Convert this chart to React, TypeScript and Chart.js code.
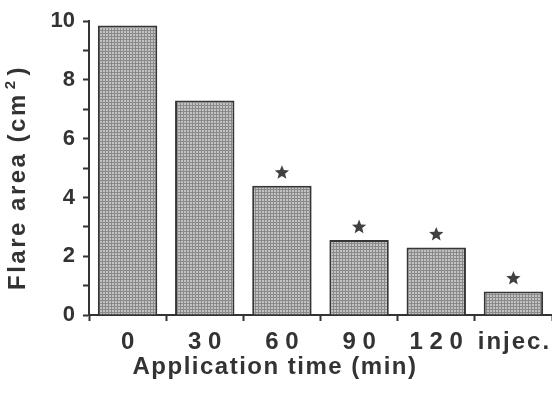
import React, { useEffect, useRef } from "react";
import { Chart, registerables } from "chart.js";

Chart.register(...registerables);

// ---- data ----
const categories = ["0", "3 0", "6 0", "9 0", "1 2 0", "i\u200An\u200Aj\u200Ae\u200Ac\u200A."];
const flareArea = [9.85, 7.3, 4.4, 2.55, 2.3, 0.8];
const significant = [false, false, true, true, true, true];
const yTickLabels = [0, 2, 4, 6, 8, 10];
const xTitle = "Application time (min)";
const yTitleMain = "Flare area (cm";
const yTitleSup = "2";
const yTitleEnd = ")";

const FONT = '"Liberation Sans", Arial, Helvetica, sans-serif';
const INK = "#333333";

function drawStar(ctx: CanvasRenderingContext2D, cx: number, cy: number, outer: number, inner: number) {
  ctx.beginPath();
  for (let i = 0; i < 10; i++) {
    const r = i % 2 === 0 ? outer : inner;
    const a = -Math.PI / 2 + (i * Math.PI) / 5;
    const x = cx + r * Math.cos(a);
    const y = cy + r * Math.sin(a);
    if (i === 0) ctx.moveTo(x, y);
    else ctx.lineTo(x, y);
  }
  ctx.closePath();
  ctx.fill();
}

const starPlugin = {
  id: "stars",
  afterDatasetsDraw(chart: any) {
    const ctx = chart.ctx as CanvasRenderingContext2D;
    const meta = chart.getDatasetMeta(0);
    ctx.save();
    ctx.fillStyle = "#404040";
    meta.data.forEach((bar: any, i: number) => {
      if (significant[i]) drawStar(ctx, bar.x, bar.y - 13, 7.5, 3.3);
    });
    ctx.restore();
  },
};

const titlePlugin = {
  id: "axisTitles",
  afterDraw(chart: any) {
    const ctx = chart.ctx as CanvasRenderingContext2D;
    const area = chart.chartArea;
    ctx.save();
    ctx.fillStyle = INK;
    (ctx as any).letterSpacing = "1.5px";
    ctx.font = `bold 24px ${FONT}`;
    ctx.textAlign = "center";
    ctx.textBaseline = "alphabetic";
    ctx.fillText(xTitle, area.left + 186, 374);

    // rotated y title
    (ctx as any).letterSpacing = "2.5px";
    ctx.translate(25, 290);
    ctx.rotate(-Math.PI / 2);
    ctx.textAlign = "left";
    ctx.font = `bold 24px ${FONT}`;
    ctx.fillText(yTitleMain, 0, 0);
    const w1 = ctx.measureText(yTitleMain).width;
    ctx.font = `bold 15px ${FONT}`;
    ctx.fillText(yTitleSup, w1 + 3, -10);
    const w2 = ctx.measureText(yTitleSup).width;
    ctx.font = `bold 24px ${FONT}`;
    ctx.fillText(yTitleEnd, w1 + w2 + 6, 0);
    ctx.restore();
  },
};

function makePattern(): CanvasPattern | string {
  const c = document.createElement("canvas");
  c.width = 3;
  c.height = 3;
  const p = c.getContext("2d");
  if (!p) return "#a8a8a8";
  p.fillStyle = "#c2c2c2";
  p.fillRect(0, 0, 3, 3);
  p.fillStyle = "#8a8a8a";
  p.fillRect(0, 0, 3, 1);
  p.fillRect(0, 0, 1, 3);
  const pat = p.createPattern(c, "repeat");
  return pat || "#a8a8a8";
}

export default function App() {
  const ref = useRef<HTMLCanvasElement | null>(null);

  useEffect(() => {
    if (!ref.current) return;
    const chart = new Chart(ref.current, {
      type: "bar",
      data: {
        labels: categories,
        datasets: [
          {
            data: flareArea,
            backgroundColor: makePattern() as any,
            borderColor: "#363636",
            borderWidth: 2,
            barPercentage: 0.77,
            categoryPercentage: 1,
          },
        ],
      },
      options: {
        animation: false,
        responsive: false,
        devicePixelRatio: 1,
        layout: { padding: { left: 31, right: 0, top: 20, bottom: 0 } },
        plugins: {
          legend: { display: false },
          tooltip: { enabled: false },
        },
        scales: {
          x: {
            offset: true,
            grid: {
              offset: true,
              drawOnChartArea: false,
              tickLength: 6,
              tickColor: INK,
              tickWidth: 2,
            },
            border: { color: INK, width: 2 },
            ticks: {
              font: { family: FONT, size: 24, weight: "bold" },
              color: INK,
              padding: 7,
              maxRotation: 0,
              autoSkip: false,
            },
            afterFit: (s: any) => {
              s.height = 80;
              s.paddingLeft = 0;
              s.paddingRight = 0;
            },
          },
          y: {
            min: 0,
            max: 10,
            grid: {
              drawOnChartArea: false,
              tickLength: 6,
              tickColor: INK,
              tickWidth: 2,
            },
            border: { color: INK, width: 2 },
            ticks: {
              stepSize: 1,
              autoSkip: false,
              font: { family: FONT, size: 22, weight: "bold" },
              color: INK,
              padding: 8,
              callback: (v: any) => (yTickLabels.includes(Number(v)) ? String(v) : ""),
            },
            afterFit: (s: any) => {
              s.width = 58;
            },
          },
        },
      } as any,
      plugins: [starPlugin, titlePlugin],
    });
    return () => chart.destroy();
  }, []);

  return (
    <div style={{ position: "absolute", left: 0, top: 0, width: 552, height: 395, background: "#fff" }}>
      <canvas ref={ref} width={552} height={395} style={{ display: "block" }} />
    </div>
  );
}
